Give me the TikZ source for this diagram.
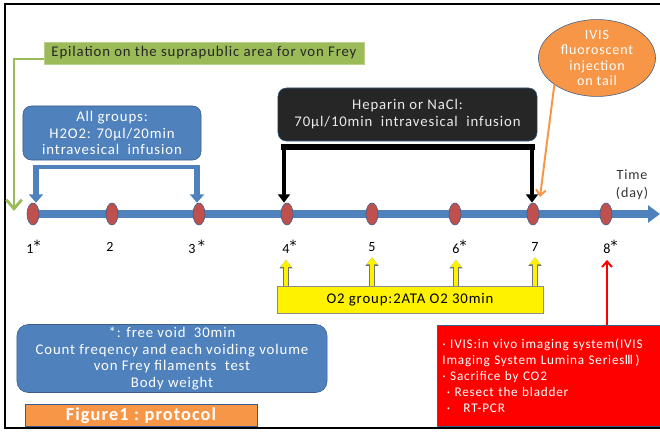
\documentclass[tikz,border=0pt]{standalone}
\usepackage{fontspec}
\setmainfont{Carlito}[LetterSpace=6]
\newfontfamily\dejavu{DejaVu Sans}
\usetikzlibrary{arrows.meta,shapes.geometric}
\definecolor{boxblue}{HTML}{4F81BD}
\definecolor{edgeblue}{HTML}{385D8A}
\definecolor{dotred}{HTML}{C0504D}
\definecolor{leafgreen}{HTML}{9BBB59}
\definecolor{callorange}{HTML}{F79646}
\definecolor{darkbox}{HTML}{262626}
\tikzset{frame/.style={line width=1.4pt,black},
axis/.style={line width=5.7pt,boxblue,-{Triangle[width=12pt,length=8.5pt]}},
daydot/.style={ellipse,draw=edgeblue,thin,fill=dotred,minimum width=.3cm,minimum height=.55cm,inner sep=0},
daylab/.style={font=\fontsize{10}{12}\selectfont,text=black,inner sep=1pt},
box/.style={draw=edgeblue,thin,inner sep=2pt,align=center,text=white,font=\fontsize{10.5}{12}\selectfont},
bluebar/.style={line width=3pt,boxblue},
bluearrow/.style={line width=4.5pt,boxblue,-{Triangle[width=10pt,length=6pt]}},
blackbar/.style={line width=4pt,black},
blackarrow/.style={line width=3.5pt,black,-{Triangle[width=8.5pt,length=6pt]}},
o2arrow/.style={line width=3pt,yellow,-{Triangle[width=7.5pt,length=5pt]},
  preaction={draw=black!55,line width=4pt,-{Triangle[width=9pt,length=6pt]}}},
greenline/.style={leafgreen,line width=2pt,-{Straight Barb[width=11pt,length=6.5pt]}},
orangearrow/.style={callorange,line width=1.4pt,-{Straight Barb[width=7pt,length=4pt]}},
redarrow/.style={red,line width=1.4pt,-{Straight Barb[width=7pt,length=4pt]}}}

\begin{document}
\begin{tikzpicture}[x=.025cm,y=-.025cm]
\useasboundingbox (0,0) rectangle (660,432);
\draw[frame] (662,4) -- (5,4) -- (5,428) -- (662,428);
% time line with the days
\coordinate (t0) at (28,214);
\coordinate (t1) at (660,214);
\draw[axis] (t0) -- (t1);
\foreach \x/\lx/\s [count=\i] in {33/30/*,112/110/,199/192/\,*,287/286/*,372/372/,455/456/*,533/535/,606/607/*}{
  \node[daydot] (d\i) at (\x,214) {};
  \node[daylab] (l\i) at (\lx,247) {\i\rlap{\raisebox{2.5pt}{\dejavu\fontsize{10}{10}\selectfont\s}}};
}
\node[daylab,align=center,font=\fontsize{10}{12.5}\selectfont,text=black!80] (time) at (632,185) {Time\\(day)};

% green note
\node[box,fill=leafgreen,draw=leafgreen!70!white,text=black!85,minimum width=8cm,minimum height=.55cm] (epil) at (204,53) {Epilation on the suprapublic area for von Frey};
\coordinate (gc) at (14,59);
\coordinate (gend) at (14,211);
\draw[greenline] (epil.west |- gc) -- (gc) -- (gend);

% H2O2 for all groups
\node[box,fill=boxblue,rounded corners=6pt,minimum width=4.45cm,minimum height=1.35cm] (all) at (112,133) {All groups:\\H2O2: 70µl/20min\\intravesical\ \ infusion};
\coordinate (bl) at (36,167);
\coordinate (br) at (197,167);
\draw[bluebar] ([xshift=-2.2pt]bl) -- ([xshift=2.2pt]br);
\draw[bluearrow] (bl) -- (bl |- d1.north);
\draw[bluearrow] (br) -- (br |- d3.north);

% heparin or NaCl
\node[box,fill=darkbox,draw=edgeblue,text=black!8,rounded corners=6pt,minimum width=6.475cm,minimum height=1.325cm] (hep) at (407.5,114.5) {Heparin or NaCl:\\70µl/10min\ \ intravesical\ \ infusion};
\coordinate (kl) at (284,147);
\coordinate (kr) at (532,147);
\draw[blackbar] ([xshift=-1.8pt]kl) -- ([xshift=1.8pt]kr);
\draw[blackarrow] (kl) -- (kl |- d4.north);
\draw[blackarrow] (kr) -- (kr |- d7.north);

% IVIS injection
\node[ellipse,draw=edgeblue,thin,fill=callorange,text=white,align=center,inner sep=0,
  font=\fontsize{10}{10.7}\selectfont,minimum width=2.925cm,minimum height=1.5cm] (ivis) at (597,58) {IVIS\\fluoroscent\\injection\\on tail};
\coordinate (oend) at (540,197);
\draw[orangearrow] (ivis.212) -- (oend);

% O2 group
\node[box,fill=yellow,draw=black!45,text=black,minimum width=6.65cm,minimum height=.675cm] (o2) at (410,299.5) {O2 group:2ATA O2 30min};
\foreach \i in {4,...,7}
  \draw[o2arrow] (o2.north -| l\i) -- ([yshift=-3pt]l\i.south);

% notes below
\node[box,fill=boxblue,rounded corners=8pt,minimum width=7.75cm,minimum height=1.675cm,font=\fontsize{10.5}{11.7}\selectfont] (void) at (172,358.5) {*: free void\ \ 30min\\Count freqency and each voiding volume\\von Frey filaments\ \ test\\Body weight};
\node[box,fill=callorange,minimum width=5.8cm,minimum height=.525cm,font=\fontsize{13}{14}\bfseries] (title) at (141,415.5) {Figure1\hspace{.3em}:\hspace{.3em}protocol};

% red box for day 8
\node[box,fill=red,align=left,text width=5.4cm,minimum width=5.625cm,minimum height=2.525cm,inner xsep=4pt,font=\fontsize{9.4}{11.4}\selectfont] (end) at (550.5,375.5) {·\ IVIS:in vivo imaging system(IVIS\\Imaging System Lumina Series{\dejavu\fontsize{9}{9}\selectfont Ⅲ}\,)\\·\ Sacrifice by CO2\\\ ·\ Resect the bladder\\\ ·\quad RT-PCR};
\draw[redarrow] (end.north -| l8) -- ([yshift=-3pt]l8.south);
\end{tikzpicture}
\end{document}
